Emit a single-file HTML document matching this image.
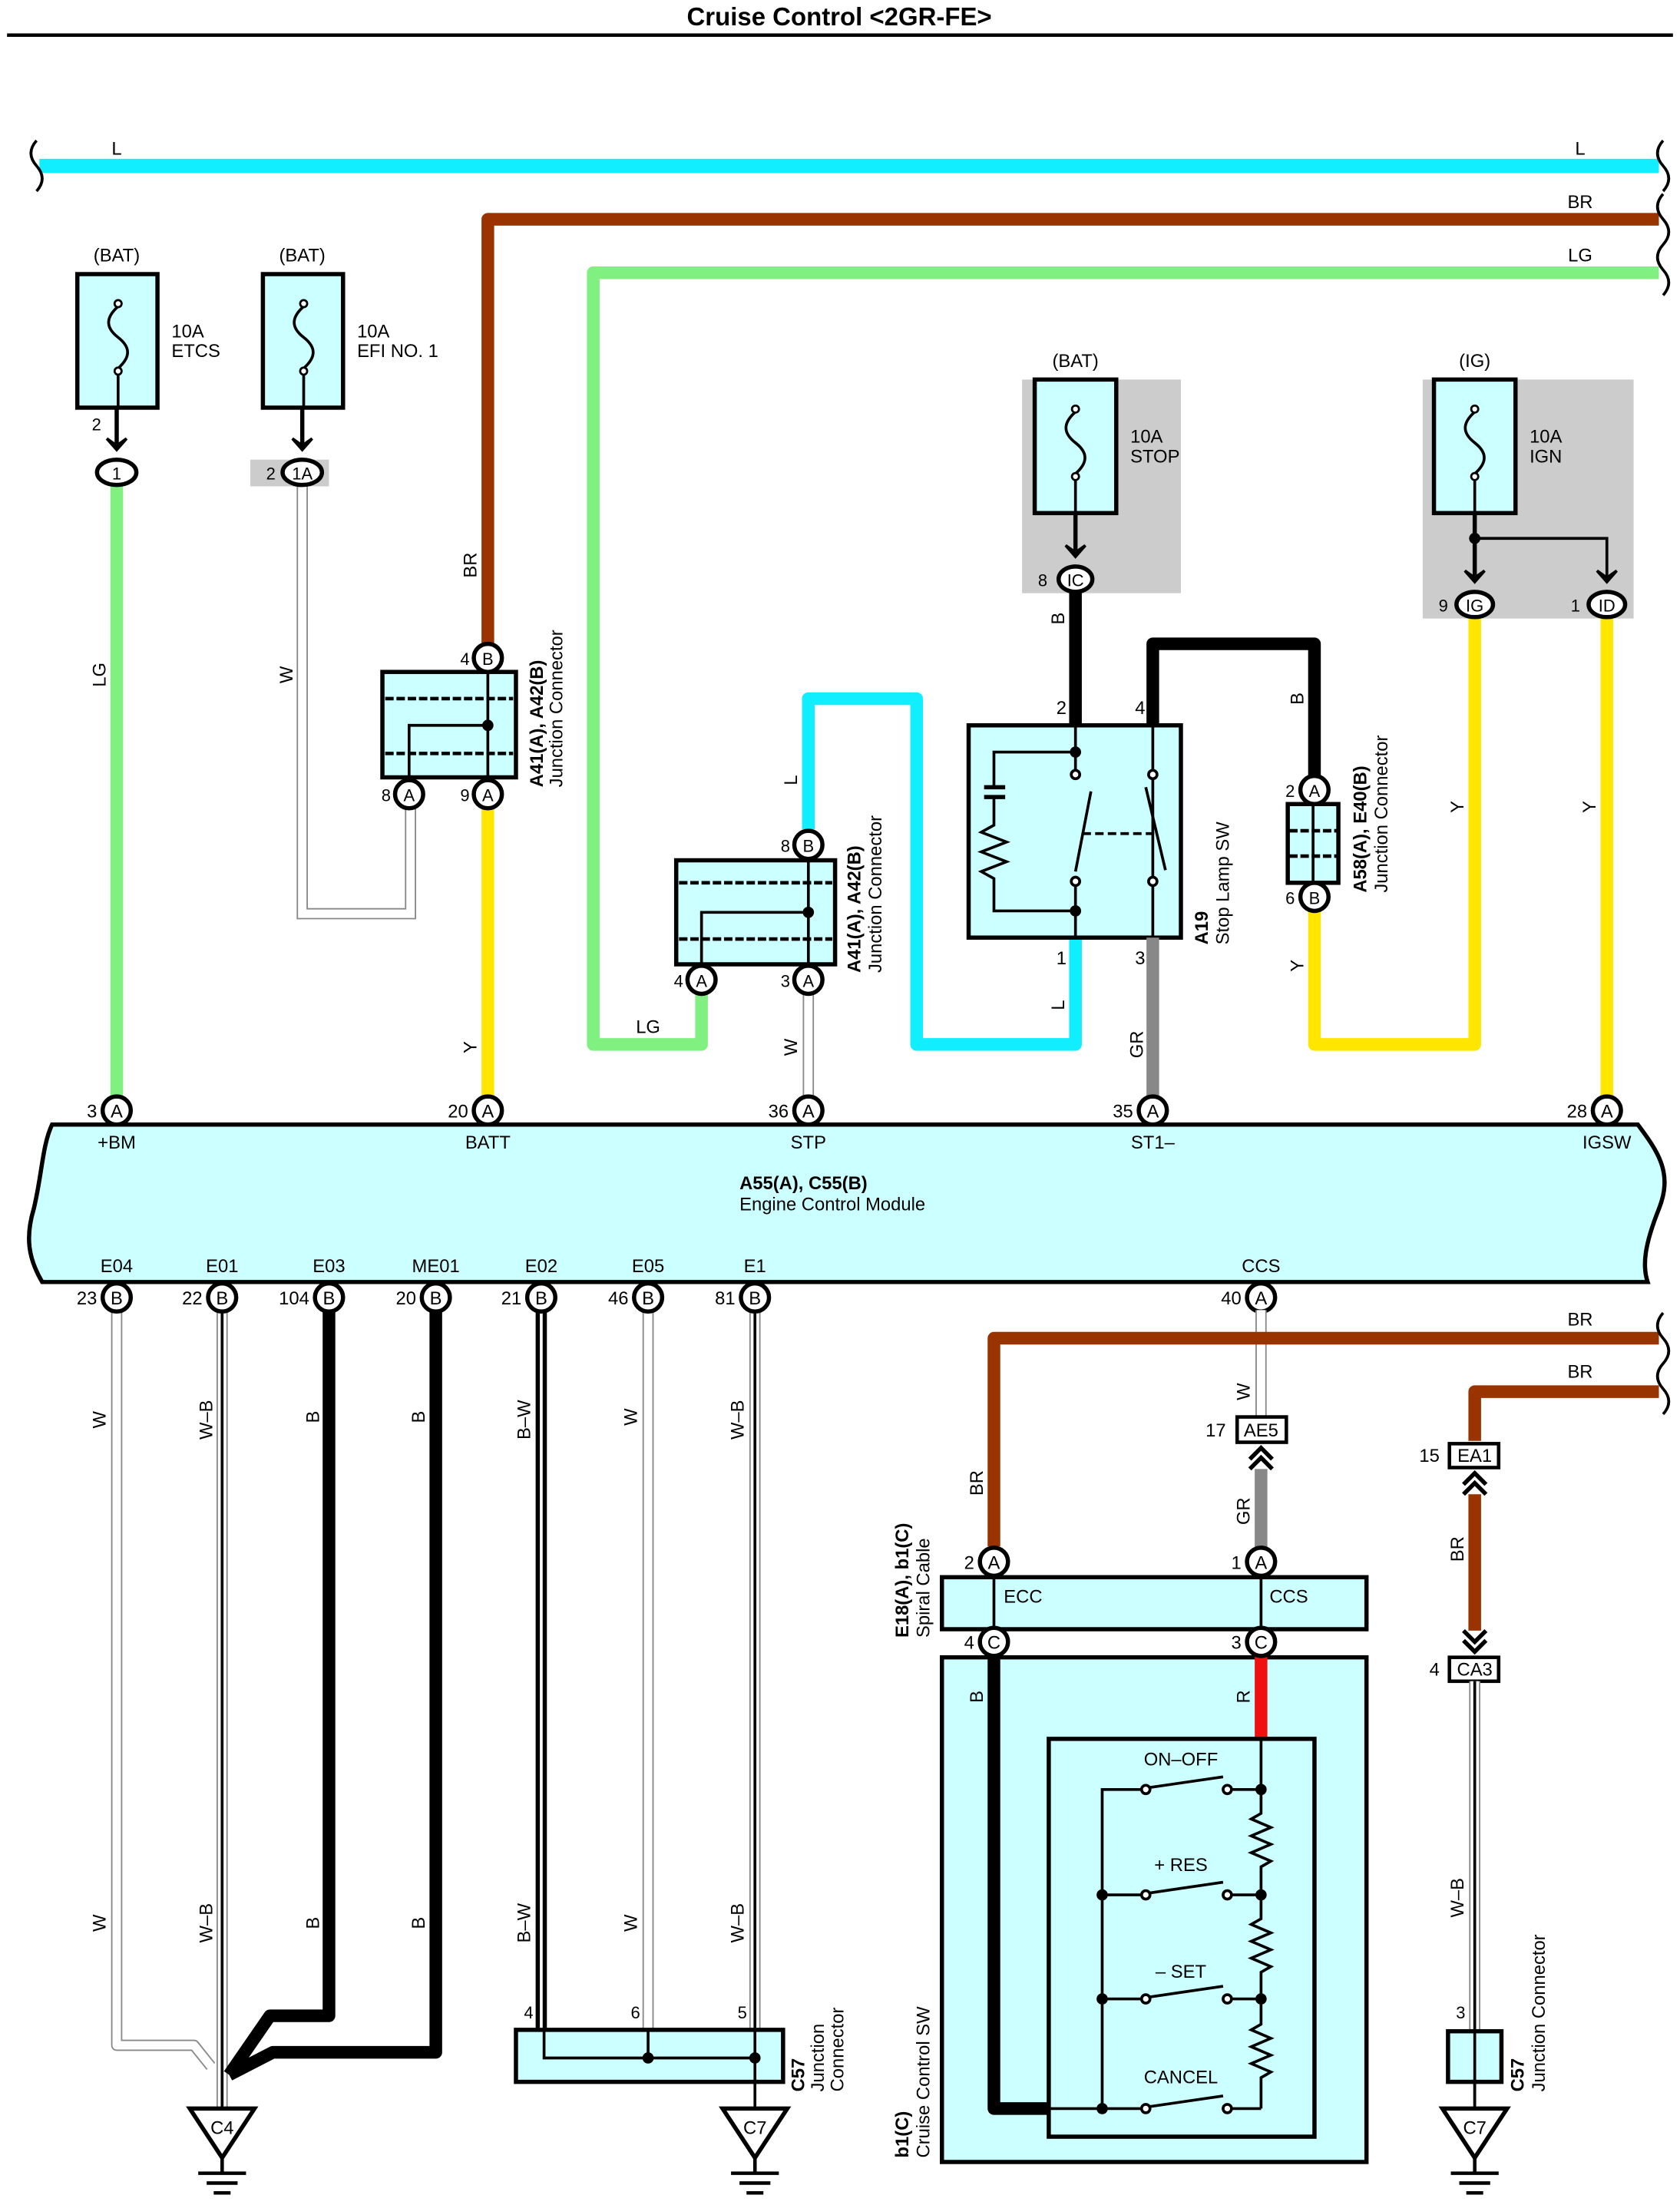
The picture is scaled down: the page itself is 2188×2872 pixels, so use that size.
<!DOCTYPE html>
<html><head><meta charset="utf-8"><style>
html,body{margin:0;padding:0;background:#fff;}
svg{display:block;}
text{font-family:"Liberation Sans",Arial,sans-serif;font-size:13px;fill:#000;}
.b{font-weight:bold;}
.m{text-anchor:middle;}
.e{text-anchor:end;}
</style></head><body>
<svg width="2188" height="2872" viewBox="0 0 1195 1568.6" xmlns="http://www.w3.org/2000/svg">
<defs>
<g id="arr"><path d="M-7,-8 L0,0 L7,-8 L0,-3 Z" fill="#000" stroke="#000" stroke-width="2"/></g>
</defs>
<rect width="1195" height="1569" fill="#fff"/>
<text x="597" y="18" class="m b" style="font-size:18px">Cruise Control &lt;2GR-FE&gt;</text>
<line x1="5" y1="25" x2="1190" y2="25" stroke="#000" stroke-width="2.5"/>

<!-- top bus wires -->
<g fill="none" stroke-linejoin="round" stroke-linecap="butt">
<line x1="28" y1="118" x2="1180" y2="118" stroke="#11eeff" stroke-width="10"/>
<polyline points="347,460 347,156 1180,156" stroke="#993300" stroke-width="9"/>
<polyline points="1180,194 422,194 422,743 499,743 499,705" stroke="#80f080" stroke-width="9"/>
</g>
<path d="M26,100 q-8,9 0,18 q8,9 0,18" fill="none" stroke="#000" stroke-width="2"/>
<path d="M1183,100 q-8,9 0,18 q8,9 0,18 M1183,138 q-8,9 0,18 q8,9 0,18 q-8,9 0,18 q8,9 0,18" fill="none" stroke="#000" stroke-width="2"/>
<text x="83" y="110" class="m">L</text>
<text x="1124" y="110" class="m">L</text>
<text x="1124" y="148" class="m">BR</text>
<text x="1124" y="186" class="m">LG</text>

<!-- ETCS fuse -->
<text x="83" y="186" class="m">(BAT)</text>
<rect x="55" y="195" width="57" height="95" fill="#ccffff" stroke="#000" stroke-width="3"/>
<path d="M84,218 c-9,8 -9,15 0,22 c9,7 9,14 0,22" fill="none" stroke="#000" stroke-width="2"/>
<circle cx="84" cy="216" r="2.5" fill="#fff" stroke="#000" stroke-width="1.5"/>
<circle cx="84" cy="264" r="2.5" fill="#fff" stroke="#000" stroke-width="1.5"/>
<line x1="84" y1="267" x2="84" y2="290" stroke="#000" stroke-width="2"/>
<text x="122" y="240">10A</text><text x="122" y="254">ETCS</text>
<line x1="83" y1="290" x2="83" y2="318" stroke="#000" stroke-width="3"/>
<use href="#arr" x="83" y="320"/>
<text x="72" y="306" class="e" style="font-size:12px">2</text>
<line x1="83" y1="345" x2="83" y2="790" stroke="#80f080" stroke-width="9"/>
<ellipse cx="83" cy="336" rx="14" ry="9" fill="#fff" stroke="#000" stroke-width="3"/>
<text x="83" y="341" class="m" style="font-size:12px">1</text>
<text transform="translate(75,480) rotate(-90)" class="m">LG</text>

<!-- EFI fuse -->
<text x="215" y="186" class="m">(BAT)</text>
<rect x="187" y="195" width="57" height="95" fill="#ccffff" stroke="#000" stroke-width="3"/>
<path d="M216,218 c-9,8 -9,15 0,22 c9,7 9,14 0,22" fill="none" stroke="#000" stroke-width="2"/>
<circle cx="216" cy="216" r="2.5" fill="#fff" stroke="#000" stroke-width="1.5"/>
<circle cx="216" cy="264" r="2.5" fill="#fff" stroke="#000" stroke-width="1.5"/>
<line x1="216" y1="267" x2="216" y2="290" stroke="#000" stroke-width="2"/>
<text x="254" y="240">10A</text><text x="254" y="254">EFI NO. 1</text>
<line x1="215" y1="290" x2="215" y2="318" stroke="#000" stroke-width="3"/>
<use href="#arr" x="215" y="320"/>
<rect x="178" y="327" width="56" height="19" fill="#ccc"/>
<text x="196" y="341" class="e" style="font-size:12px">2</text>
<polyline points="215,345 215,650 292,650 292,575" fill="none" stroke="#888" stroke-width="8"/>
<polyline points="215,345 215,650 292,650 292,575" fill="none" stroke="#fff" stroke-width="6"/>
<ellipse cx="215" cy="336" rx="14" ry="9" fill="#fff" stroke="#000" stroke-width="3"/>
<text x="215" y="341" class="m" style="font-size:12px">1A</text>
<text transform="translate(208,480) rotate(-90)" class="m">W</text>

<!-- upper junction connector A41 -->
<text transform="translate(339,402) rotate(-90)" class="m">BR</text>
<rect x="272" y="478" width="95" height="75" fill="#ccffff" stroke="#000" stroke-width="3"/>
<line x1="274" y1="497" x2="365" y2="497" stroke="#000" stroke-width="2.5" stroke-dasharray="6,2"/>
<line x1="274" y1="536" x2="365" y2="536" stroke="#000" stroke-width="2.5" stroke-dasharray="6,2"/>
<polyline points="291,553 291,516 347,516" fill="none" stroke="#000" stroke-width="2"/>
<line x1="347" y1="478" x2="347" y2="553" stroke="#000" stroke-width="2"/>
<circle cx="347" cy="516" r="4" fill="#000"/>
<line x1="347" y1="575" x2="347" y2="790" stroke="#ffe600" stroke-width="9"/>
<ellipse cx="347" cy="468" rx="10" ry="10" fill="#fff" stroke="#000" stroke-width="3"/>
<text x="347" y="473" class="m" style="font-size:12px">B</text>
<text x="334" y="473" class="e" style="font-size:12px">4</text>
<ellipse cx="291" cy="565" rx="10" ry="10" fill="#fff" stroke="#000" stroke-width="3"/>
<text x="291" y="570" class="m" style="font-size:12px">A</text>
<text x="278" y="570" class="e" style="font-size:12px">8</text>
<ellipse cx="347" cy="565" rx="10" ry="10" fill="#fff" stroke="#000" stroke-width="3"/>
<text x="347" y="570" class="m" style="font-size:12px">A</text>
<text x="334" y="570" class="e" style="font-size:12px">9</text>
<text transform="translate(386,560) rotate(-90)" class="b">A41(A), A42(B)</text>
<text transform="translate(400,560) rotate(-90)">Junction Connector</text>
<text transform="translate(339,745) rotate(-90)" class="m">Y</text>

<!-- second junction connector -->
<polyline points="575,590 575,497 652,497 652,743 765,743 765,668" fill="none" stroke="#11eeff" stroke-width="9" stroke-linejoin="round"/>
<text transform="translate(567,555) rotate(-90)" class="m">L</text>
<text x="461" y="735" class="m">LG</text>
<rect x="481" y="612" width="113" height="74" fill="#ccffff" stroke="#000" stroke-width="3"/>
<line x1="483" y1="628" x2="592" y2="628" stroke="#000" stroke-width="2.5" stroke-dasharray="6,2"/>
<line x1="483" y1="668" x2="592" y2="668" stroke="#000" stroke-width="2.5" stroke-dasharray="6,2"/>
<polyline points="499,686 499,649 575,649" fill="none" stroke="#000" stroke-width="2"/>
<line x1="575" y1="612" x2="575" y2="686" stroke="#000" stroke-width="2"/>
<circle cx="575" cy="649" r="4" fill="#000"/>
<line x1="575" y1="707" x2="575" y2="790" stroke="#888" stroke-width="8"/>
<line x1="575" y1="707" x2="575" y2="790" stroke="#fff" stroke-width="6"/>
<ellipse cx="575" cy="601" rx="10" ry="10" fill="#fff" stroke="#000" stroke-width="3"/>
<text x="575" y="606" class="m" style="font-size:12px">B</text>
<text x="562" y="606" class="e" style="font-size:12px">8</text>
<ellipse cx="499" cy="697" rx="10" ry="10" fill="#fff" stroke="#000" stroke-width="3"/>
<text x="499" y="702" class="m" style="font-size:12px">A</text>
<text x="486" y="702" class="e" style="font-size:12px">4</text>
<ellipse cx="575" cy="697" rx="10" ry="10" fill="#fff" stroke="#000" stroke-width="3"/>
<text x="575" y="702" class="m" style="font-size:12px">A</text>
<text x="562" y="702" class="e" style="font-size:12px">3</text>
<text transform="translate(612,692) rotate(-90)" class="b">A41(A), A42(B)</text>
<text transform="translate(627,692) rotate(-90)">Junction Connector</text>
<text transform="translate(567,745) rotate(-90)" class="m">W</text>

<!-- STOP fuse -->
<rect x="727" y="270" width="113" height="152" fill="#ccc"/>
<text x="765" y="261" class="m">(BAT)</text>
<rect x="736" y="270" width="58" height="95" fill="#ccffff" stroke="#000" stroke-width="3"/>
<path d="M765,293 c-9,8 -9,15 0,22 c9,7 9,14 0,22" fill="none" stroke="#000" stroke-width="2"/>
<circle cx="765" cy="291" r="2.5" fill="#fff" stroke="#000" stroke-width="1.5"/>
<circle cx="765" cy="339" r="2.5" fill="#fff" stroke="#000" stroke-width="1.5"/>
<line x1="765" y1="342" x2="765" y2="365" stroke="#000" stroke-width="2"/>
<text x="804" y="315">10A</text><text x="804" y="329">STOP</text>
<line x1="765" y1="365" x2="765" y2="394" stroke="#000" stroke-width="3"/>
<use href="#arr" x="765" y="396"/>
<line x1="765" y1="421" x2="765" y2="516" stroke="#000" stroke-width="9"/>
<ellipse cx="765" cy="412" rx="12" ry="9" fill="#fff" stroke="#000" stroke-width="3"/>
<text x="765" y="417" class="m" style="font-size:12px">IC</text>
<text x="745" y="417" class="e" style="font-size:12px">8</text>
<text transform="translate(757,440) rotate(-90)" class="m">B</text>

<!-- Stop lamp switch -->
<polyline points="820,516 820,458 935,458 935,553" fill="none" stroke="#000" stroke-width="9" stroke-linejoin="round"/>
<text transform="translate(927,497) rotate(-90)" class="m">B</text>
<text x="755" y="508" class="m" style="font-size:13px">2</text>
<text x="811" y="508" class="m" style="font-size:13px">4</text>
<rect x="689" y="516" width="151" height="151" fill="#ccffff" stroke="#000" stroke-width="3"/>
<g stroke="#000" stroke-width="2" fill="none">
<line x1="765" y1="516" x2="765" y2="548"/>
<line x1="765" y1="630" x2="765" y2="667"/>
<line x1="820" y1="516" x2="820" y2="667"/>
<polyline points="765,535 707,535 707,560"/>
<polyline points="707,567 707,587 698,592 716,599 698,606 716,613 698,620 707,625 707,648 765,648"/>
<line x1="700" y1="560" x2="715" y2="560" stroke-width="3"/>
<line x1="700" y1="567" x2="715" y2="567" stroke-width="3"/>
<line x1="765" y1="620" x2="776" y2="563"/>
<line x1="829" y1="619" x2="815" y2="560"/>
<line x1="770" y1="593" x2="823" y2="593" stroke-dasharray="6,3"/>
</g>
<circle cx="765" cy="535" r="4" fill="#000"/><circle cx="765" cy="648" r="4" fill="#000"/>
<g fill="#fff" stroke="#000" stroke-width="2"><circle cx="765" cy="551" r="3"/><circle cx="765" cy="627" r="3"/><circle cx="820" cy="551" r="3"/><circle cx="820" cy="627" r="3"/></g>
<line x1="820" y1="667" x2="820" y2="790" stroke="#888" stroke-width="9"/>
<text x="755" y="686" class="m">1</text><text x="811" y="686" class="m">3</text>
<text transform="translate(757,715) rotate(-90)" class="m">L</text>
<text transform="translate(813,743) rotate(-90)" class="m">GR</text>
<text transform="translate(859,672) rotate(-90)" class="b">A19</text>
<text transform="translate(874,672) rotate(-90)">Stop Lamp SW</text>

<!-- A58 connector -->
<polyline points="935,648 935,743 1049,743 1049,440" fill="none" stroke="#ffe600" stroke-width="9" stroke-linejoin="round"/>
<rect x="916" y="572" width="36" height="56" fill="#ccffff" stroke="#000" stroke-width="3"/>
<line x1="934" y1="572" x2="934" y2="628" stroke="#000" stroke-width="2"/>
<line x1="917" y1="591" x2="951" y2="591" stroke="#000" stroke-width="2.5" stroke-dasharray="6,2"/>
<line x1="917" y1="609" x2="951" y2="609" stroke="#000" stroke-width="2.5" stroke-dasharray="6,2"/>
<ellipse cx="935" cy="562" rx="10" ry="10" fill="#fff" stroke="#000" stroke-width="3"/>
<text x="935" y="567" class="m" style="font-size:12px">A</text>
<text x="921" y="567" class="e" style="font-size:12px">2</text>
<ellipse cx="935" cy="638" rx="10" ry="10" fill="#fff" stroke="#000" stroke-width="3"/>
<text x="935" y="643" class="m" style="font-size:12px">B</text>
<text x="921" y="643" class="e" style="font-size:12px">6</text>
<text transform="translate(972,635) rotate(-90)" class="b">A58(A), E40(B)</text>
<text transform="translate(987,635) rotate(-90)">Junction Connector</text>
<text transform="translate(927,687) rotate(-90)" class="m">Y</text>

<!-- IGN fuse -->
<rect x="1012" y="270" width="150" height="170" fill="#ccc"/>
<text x="1049" y="261" class="m">(IG)</text>
<rect x="1020" y="270" width="58" height="95" fill="#ccffff" stroke="#000" stroke-width="3"/>
<path d="M1049,293 c-9,8 -9,15 0,22 c9,7 9,14 0,22" fill="none" stroke="#000" stroke-width="2"/>
<circle cx="1049" cy="291" r="2.5" fill="#fff" stroke="#000" stroke-width="1.5"/>
<circle cx="1049" cy="339" r="2.5" fill="#fff" stroke="#000" stroke-width="1.5"/>
<line x1="1049" y1="342" x2="1049" y2="365" stroke="#000" stroke-width="2"/>
<text x="1088" y="315">10A</text><text x="1088" y="329">IGN</text>
<polyline points="1049,365 1049,412" fill="none" stroke="#000" stroke-width="3"/>
<polyline points="1049,383 1143,383 1143,412" fill="none" stroke="#000" stroke-width="2"/>
<circle cx="1049" cy="383" r="4" fill="#000"/>
<use href="#arr" x="1049" y="414"/><use href="#arr" x="1143" y="414"/>
<line x1="1143" y1="440" x2="1143" y2="790" stroke="#ffe600" stroke-width="9"/>
<ellipse cx="1049" cy="430" rx="13" ry="9" fill="#fff" stroke="#000" stroke-width="3"/>
<text x="1049" y="435" class="m" style="font-size:12px">IG</text>
<text x="1030" y="435" class="e" style="font-size:12px">9</text>
<ellipse cx="1143" cy="430" rx="13" ry="9" fill="#fff" stroke="#000" stroke-width="3"/>
<text x="1143" y="435" class="m" style="font-size:12px">ID</text>
<text x="1124" y="435" class="e" style="font-size:12px">1</text>
<text transform="translate(1041,574) rotate(-90)" class="m">Y</text>
<text transform="translate(1135,574) rotate(-90)" class="m">Y</text>

<!-- ECM -->
<path d="M37,800 L1165,800 C1180,820 1190,835 1180,860 C1170,885 1168,900 1172,912 L30,912 C20,895 18,880 24,860 C30,835 30,815 37,800 Z" fill="#ccffff" stroke="#000" stroke-width="3"/>
<g style="font-size:12px">
<ellipse cx="83" cy="790" rx="10" ry="10" fill="#fff" stroke="#000" stroke-width="3"/><text x="83" y="795" class="m">A</text><text x="69" y="795" class="e">3</text>
<ellipse cx="347" cy="790" rx="10" ry="10" fill="#fff" stroke="#000" stroke-width="3"/><text x="347" y="795" class="m">A</text><text x="333" y="795" class="e">20</text>
<ellipse cx="575" cy="790" rx="10" ry="10" fill="#fff" stroke="#000" stroke-width="3"/><text x="575" y="795" class="m">A</text><text x="561" y="795" class="e">36</text>
<ellipse cx="820" cy="790" rx="10" ry="10" fill="#fff" stroke="#000" stroke-width="3"/><text x="820" y="795" class="m">A</text><text x="806" y="795" class="e">35</text>
<ellipse cx="1143" cy="790" rx="10" ry="10" fill="#fff" stroke="#000" stroke-width="3"/><text x="1143" y="795" class="m">A</text><text x="1129" y="795" class="e">28</text>
</g>
<text x="83" y="817" class="m">+BM</text><text x="347" y="817" class="m">BATT</text><text x="575" y="817" class="m">STP</text><text x="820" y="817" class="m">ST1–</text><text x="1143" y="817" class="m">IGSW</text>
<text x="526" y="846" class="b">A55(A), C55(B)</text>
<text x="526" y="861">Engine Control Module</text>
<text x="83" y="905" class="m">E04</text><text x="158" y="905" class="m">E01</text><text x="234" y="905" class="m">E03</text><text x="310" y="905" class="m">ME01</text><text x="385" y="905" class="m">E02</text><text x="461" y="905" class="m">E05</text><text x="537" y="905" class="m">E1</text><text x="897" y="905" class="m">CCS</text>

<!-- bottom ground wires -->
<g fill="none" stroke-linejoin="round">
<polyline points="83,932 83,1455 138,1455 150,1470" stroke="#888" stroke-width="8"/>
<polyline points="83,932 83,1455 138,1455 150,1470" stroke="#fff" stroke-width="6"/>
<line x1="158" y1="932" x2="158" y2="1500" stroke="#888" stroke-width="8"/>
<line x1="158" y1="932" x2="158" y2="1500" stroke="#fff" stroke-width="6"/>
<line x1="158" y1="932" x2="158" y2="1500" stroke="#000" stroke-width="2"/>
<polyline points="234,932 234,1434 192,1434 163,1476" stroke="#000" stroke-width="9"/>
<polyline points="310,932 310,1460 194,1460 163,1476" stroke="#000" stroke-width="9"/>
<line x1="385" y1="932" x2="385" y2="1443" stroke="#000" stroke-width="8"/>
<line x1="385" y1="932" x2="385" y2="1443" stroke="#fff" stroke-width="2"/>
<line x1="461" y1="932" x2="461" y2="1443" stroke="#888" stroke-width="8"/>
<line x1="461" y1="932" x2="461" y2="1443" stroke="#fff" stroke-width="6"/>
<line x1="537" y1="932" x2="537" y2="1443" stroke="#888" stroke-width="8"/>
<line x1="537" y1="932" x2="537" y2="1443" stroke="#fff" stroke-width="6"/>
<line x1="537" y1="932" x2="537" y2="1443" stroke="#000" stroke-width="2"/>
</g>
<g style="font-size:12px">
<ellipse cx="83" cy="923" rx="10" ry="10" fill="#fff" stroke="#000" stroke-width="3"/><text x="83" y="928" class="m">B</text><text x="69" y="928" class="e">23</text>
<ellipse cx="158" cy="923" rx="10" ry="10" fill="#fff" stroke="#000" stroke-width="3"/><text x="158" y="928" class="m">B</text><text x="144" y="928" class="e">22</text>
<ellipse cx="234" cy="923" rx="10" ry="10" fill="#fff" stroke="#000" stroke-width="3"/><text x="234" y="928" class="m">B</text><text x="220" y="928" class="e">104</text>
<ellipse cx="310" cy="923" rx="10" ry="10" fill="#fff" stroke="#000" stroke-width="3"/><text x="310" y="928" class="m">B</text><text x="296" y="928" class="e">20</text>
<ellipse cx="385" cy="923" rx="10" ry="10" fill="#fff" stroke="#000" stroke-width="3"/><text x="385" y="928" class="m">B</text><text x="371" y="928" class="e">21</text>
<ellipse cx="461" cy="923" rx="10" ry="10" fill="#fff" stroke="#000" stroke-width="3"/><text x="461" y="928" class="m">B</text><text x="447" y="928" class="e">46</text>
<ellipse cx="537" cy="923" rx="10" ry="10" fill="#fff" stroke="#000" stroke-width="3"/><text x="537" y="928" class="m">B</text><text x="523" y="928" class="e">81</text>
<ellipse cx="897" cy="923" rx="10" ry="10" fill="#fff" stroke="#000" stroke-width="3"/><text x="897" y="928" class="m">A</text><text x="883" y="928" class="e">40</text>
</g>
<g>
<text transform="translate(75,1010) rotate(-90)" class="m">W</text>
<text transform="translate(151,1010) rotate(-90)" class="m">W–B</text>
<text transform="translate(227,1008) rotate(-90)" class="m">B</text>
<text transform="translate(302,1008) rotate(-90)" class="m">B</text>
<text transform="translate(377,1010) rotate(-90)" class="m">B–W</text>
<text transform="translate(453,1008) rotate(-90)" class="m">W</text>
<text transform="translate(529,1010) rotate(-90)" class="m">W–B</text>
<text transform="translate(75,1368) rotate(-90)" class="m">W</text>
<text transform="translate(151,1368) rotate(-90)" class="m">W–B</text>
<text transform="translate(227,1368) rotate(-90)" class="m">B</text>
<text transform="translate(302,1368) rotate(-90)" class="m">B</text>
<text transform="translate(377,1368) rotate(-90)" class="m">B–W</text>
<text transform="translate(453,1368) rotate(-90)" class="m">W</text>
<text transform="translate(529,1368) rotate(-90)" class="m">W–B</text>
</g>
<!-- C57 connector -->
<rect x="367" y="1444" width="190" height="37" fill="#ccffff" stroke="#000" stroke-width="3"/>
<polyline points="387,1444 387,1464 537,1464" fill="none" stroke="#000" stroke-width="2"/>
<line x1="461" y1="1444" x2="461" y2="1464" stroke="#000" stroke-width="2"/>
<line x1="537" y1="1444" x2="537" y2="1500" stroke="#000" stroke-width="2"/>
<circle cx="461" cy="1464" r="4" fill="#000"/><circle cx="537" cy="1464" r="4" fill="#000"/>
<text x="376" y="1436" class="m" style="font-size:12px">4</text><text x="452" y="1436" class="m" style="font-size:12px">6</text><text x="528" y="1436" class="m" style="font-size:12px">5</text>
<text transform="translate(572,1488) rotate(-90)" class="b">C57</text>
<text transform="translate(586,1488) rotate(-90)">Junction</text>
<text transform="translate(600,1488) rotate(-90)">Connector</text>
<!-- grounds -->
<g fill="#fff" stroke="#000" stroke-width="3">
<path d="M135,1500 L181,1500 L158,1535 Z"/>
<path d="M514,1500 L560,1500 L537,1535 Z"/>
<path d="M1026,1500 L1072,1500 L1049,1535 Z"/>
</g>
<text x="158" y="1518" class="m">C4</text><text x="537" y="1518" class="m">C7</text><text x="1049" y="1518" class="m">C7</text>
<g stroke="#000" stroke-width="2.5">
<line x1="158" y1="1535" x2="158" y2="1546"/><line x1="141" y1="1546" x2="175" y2="1546"/><line x1="147" y1="1553" x2="169" y2="1553"/><line x1="152" y1="1560" x2="164" y2="1560"/>
<line x1="537" y1="1535" x2="537" y2="1546"/><line x1="520" y1="1546" x2="554" y2="1546"/><line x1="526" y1="1553" x2="548" y2="1553"/><line x1="531" y1="1560" x2="543" y2="1560"/>
<line x1="1049" y1="1535" x2="1049" y2="1546"/><line x1="1032" y1="1546" x2="1066" y2="1546"/><line x1="1038" y1="1553" x2="1060" y2="1553"/><line x1="1043" y1="1560" x2="1055" y2="1560"/>
</g>

<!-- CCS path -->
<line x1="897" y1="932" x2="897" y2="1008" stroke="#888" stroke-width="8"/>
<line x1="897" y1="932" x2="897" y2="1008" stroke="#fff" stroke-width="6"/>
<text transform="translate(889,990) rotate(-90)" class="m">W</text>
<rect x="880" y="1008" width="35" height="18" fill="#fff" stroke="#000" stroke-width="2.5"/>
<text x="897" y="1022" class="m">AE5</text><text x="872" y="1022" class="e">17</text>
<path d="M889,1038 L897,1030 L905,1038 M889,1045 L897,1037 L905,1045" fill="none" stroke="#000" stroke-width="3"/>
<line x1="897" y1="1045" x2="897" y2="1102" stroke="#888" stroke-width="9"/>
<text transform="translate(889,1075) rotate(-90)" class="m">GR</text>

<!-- BR wires bottom -->
<polyline points="707,1100 707,952 1180,952" fill="none" stroke="#993300" stroke-width="9" stroke-linejoin="round"/>
<polyline points="1049,1025 1049,990 1180,990" fill="none" stroke="#993300" stroke-width="9" stroke-linejoin="round"/>
<path d="M1183,934 q-8,9 0,18 q8,9 0,18 q-8,9 0,18 q8,9 0,18" fill="none" stroke="#000" stroke-width="2"/>
<text x="1124" y="943" class="m">BR</text><text x="1124" y="980" class="m">BR</text>
<text transform="translate(699,1055) rotate(-90)" class="m">BR</text>
<rect x="1031" y="1027" width="35" height="17" fill="#fff" stroke="#000" stroke-width="2.5"/>
<text x="1049" y="1040" class="m">EA1</text><text x="1024" y="1040" class="e">15</text>
<path d="M1041,1056 L1049,1048 L1057,1056 M1041,1063 L1049,1055 L1057,1063" fill="none" stroke="#000" stroke-width="3"/>
<line x1="1049" y1="1063" x2="1049" y2="1160" stroke="#993300" stroke-width="9"/>
<path d="M1041,1160 L1049,1168 L1057,1160 M1041,1167 L1049,1175 L1057,1167" fill="none" stroke="#000" stroke-width="3"/>
<text transform="translate(1041,1102) rotate(-90)" class="m">BR</text>
<rect x="1031" y="1179" width="35" height="17" fill="#fff" stroke="#000" stroke-width="2.5"/>
<text x="1049" y="1192" class="m">CA3</text><text x="1024" y="1192" class="e">4</text>
<line x1="1049" y1="1196" x2="1049" y2="1445" stroke="#888" stroke-width="8"/>
<line x1="1049" y1="1196" x2="1049" y2="1445" stroke="#fff" stroke-width="6"/>
<line x1="1049" y1="1196" x2="1049" y2="1500" stroke="#000" stroke-width="2"/>
<text transform="translate(1041,1350) rotate(-90)" class="m">W–B</text>
<rect x="1030" y="1445" width="38" height="36" fill="#ccffff" stroke="#000" stroke-width="3"/>
<line x1="1049" y1="1445" x2="1049" y2="1500" stroke="#000" stroke-width="2"/>
<text x="1039" y="1436" class="m" style="font-size:12px">3</text>
<text transform="translate(1084,1488) rotate(-90)" class="b">C57</text>
<text transform="translate(1099,1488) rotate(-90)">Junction Connector</text>

<!-- spiral cable -->
<rect x="670" y="1122" width="302" height="37" fill="#ccffff" stroke="#000" stroke-width="3"/>
<line x1="707" y1="1122" x2="707" y2="1159" stroke="#000" stroke-width="2"/>
<line x1="897" y1="1122" x2="897" y2="1159" stroke="#000" stroke-width="2"/>
<text x="714" y="1140">ECC</text><text x="903" y="1140">CCS</text>
<g style="font-size:12px">
<ellipse cx="707" cy="1111" rx="10" ry="10" fill="#fff" stroke="#000" stroke-width="3"/><text x="707" y="1116" class="m">A</text><text x="693" y="1116" class="e">2</text>
<ellipse cx="897" cy="1111" rx="10" ry="10" fill="#fff" stroke="#000" stroke-width="3"/><text x="897" y="1116" class="m">A</text><text x="883" y="1116" class="e">1</text>
</g>
<text transform="translate(646,1165) rotate(-90)" class="b">E18(A), b1(C)</text>
<text transform="translate(661,1165) rotate(-90)">Spiral Cable</text>

<!-- cruise control SW -->
<rect x="670" y="1179" width="302" height="359" fill="#ccffff" stroke="#000" stroke-width="3"/>
<polyline points="707,1178 707,1500 747,1500" fill="none" stroke="#000" stroke-width="9" stroke-linejoin="round"/>
<line x1="897" y1="1178" x2="897" y2="1236" stroke="#f01010" stroke-width="9"/>
<text transform="translate(699,1207) rotate(-90)" class="m">B</text>
<text transform="translate(889,1207) rotate(-90)" class="m">R</text>
<rect x="746" y="1237" width="189" height="283" fill="#ccffff" stroke="#000" stroke-width="3"/>
<g stroke="#000" stroke-width="2" fill="none">
<polyline points="897,1237 897,1290 890,1294 904,1300 890,1306 904,1312 890,1318 904,1324 897,1328 897,1365 890,1369 904,1375 890,1381 904,1387 890,1393 904,1399 897,1403 897,1440 890,1444 904,1450 890,1456 904,1462 890,1468 904,1474 897,1478 897,1500"/>
<polyline points="784,1500 784,1273 812,1273"/>
<line x1="747" y1="1500" x2="812" y2="1500"/>
<line x1="784" y1="1348" x2="812" y2="1348"/><line x1="784" y1="1422" x2="812" y2="1422"/>
<line x1="876" y1="1273" x2="897" y2="1273"/><line x1="876" y1="1348" x2="897" y2="1348"/><line x1="876" y1="1422" x2="897" y2="1422"/><line x1="876" y1="1500" x2="897" y2="1500"/>
<line x1="815" y1="1272" x2="870" y2="1264"/><line x1="815" y1="1347" x2="870" y2="1339"/><line x1="815" y1="1421" x2="870" y2="1413"/><line x1="815" y1="1499" x2="870" y2="1491"/>
</g>
<g fill="#fff" stroke="#000" stroke-width="2">
<circle cx="815" cy="1273" r="3"/><circle cx="873" cy="1273" r="3"/>
<circle cx="815" cy="1348" r="3"/><circle cx="873" cy="1348" r="3"/>
<circle cx="815" cy="1422" r="3"/><circle cx="873" cy="1422" r="3"/>
<circle cx="815" cy="1500" r="3"/><circle cx="873" cy="1500" r="3"/>
</g>
<g fill="#000">
<circle cx="897" cy="1273" r="4"/><circle cx="897" cy="1348" r="4"/><circle cx="897" cy="1422" r="4"/>
<circle cx="784" cy="1348" r="4"/><circle cx="784" cy="1422" r="4"/><circle cx="784" cy="1500" r="4"/>
</g>
<text x="840" y="1256" class="m">ON–OFF</text><text x="840" y="1331" class="m">+ RES</text><text x="840" y="1407" class="m">– SET</text><text x="840" y="1482" class="m">CANCEL</text>
<g style="font-size:12px">
<ellipse cx="707" cy="1168" rx="10" ry="10" fill="#fff" stroke="#000" stroke-width="3"/><text x="707" y="1173" class="m">C</text><text x="693" y="1173" class="e">4</text>
<ellipse cx="897" cy="1168" rx="10" ry="10" fill="#fff" stroke="#000" stroke-width="3"/><text x="897" y="1173" class="m">C</text><text x="883" y="1173" class="e">3</text>
</g>
<text transform="translate(646,1535) rotate(-90)" class="b">b1(C)</text>
<text transform="translate(661,1535) rotate(-90)">Cruise Control SW</text>
</svg>
</body></html>
